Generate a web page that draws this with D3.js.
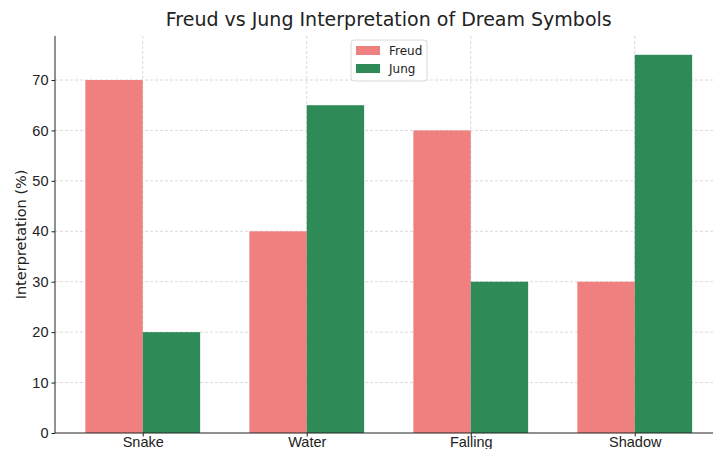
<!DOCTYPE html>
<html>
<head>
<meta charset="utf-8">
<script src="https://cdn.jsdelivr.net/npm/d3@7"></script>
<style>
  body { margin: 0; background: #fff; }
  svg { font-family: "DejaVu Sans", sans-serif; }
  .grid line { stroke: #d0d0d0; stroke-dasharray: 3,2; stroke-width: 0.8; }
</style>
</head>
<body>
<div id="chart"></div>
<script>
var symbols = ["Snake", "Water", "Falling", "Shadow"];
var freud = [70, 40, 60, 30];
var jung = [20, 65, 30, 75];
var yTicks = [0, 10, 20, 30, 40, 50, 60, 70];
var seriesNames = ["Freud", "Jung"];
var colors = ["#f08080", "#2e8b57"];

var W = 713, H = 449;

var svg = d3.select("#chart").append("svg")
    .attr("width", W)
    .attr("height", H);

// positions like matplotlib: index scale with margins
var x = d3.scaleLinear().domain([-0.535, 3.535]).range([55, 722.5]);
var y = d3.scaleLinear().domain([0, 78.75]).range([433, 433 - 78.75 * (353 / 70)]);
var barW = x(0.35) - x(0);

// grid
var grid = svg.append("g").attr("class", "grid");
grid.selectAll(".hg")
  .data(yTicks.slice(1))
  .enter().append("line")
    .attr("x1", x.range()[0]).attr("x2", x.range()[1])
    .attr("y1", function(d) { return y(d); })
    .attr("y2", function(d) { return y(d); });
grid.selectAll(".vg")
  .data(symbols)
  .enter().append("line")
    .attr("x1", function(d, i) { return x(i); })
    .attr("x2", function(d, i) { return x(i); })
    .attr("y1", y.range()[1]).attr("y2", y.range()[0]);

// bars
var data = symbols.map(function(s, i) { return {name: s, i: i, vals: [freud[i], jung[i]]}; });
var groups = svg.selectAll(".grp")
    .data(data)
  .enter().append("g");
groups.selectAll("rect")
    .data(function(d) { return d.vals.map(function(v, k) { return {i: d.i, k: k, v: v}; }); })
  .enter().append("rect")
    .attr("x", function(d) { return x(d.i) - barW + d.k * barW; })
    .attr("width", barW)
    .attr("y", function(d) { return y(d.v); })
    .attr("height", function(d) { return y(0) - y(d.v); })
    .attr("fill", function(d) { return colors[d.k]; });

// axes
var yAxis = svg.append("g")
    .attr("transform", "translate(" + x.range()[0] + ",0)")
    .call(d3.axisLeft(y).tickValues(yTicks).tickSize(3.5).tickPadding(3));
var xAxis = svg.append("g")
    .attr("transform", "translate(0," + y(0) + ")")
    .call(d3.axisBottom(x).tickValues([0, 1, 2, 3]).tickFormat(function(d) { return symbols[d]; }).tickSize(3.5).tickPadding(0));
[yAxis, xAxis].forEach(function(a) {
  a.select(".domain").attr("stroke", "#222").attr("stroke-width", 1);
  a.selectAll(".tick line").attr("stroke", "#222");
  a.selectAll(".tick text").attr("fill", "#222").style("font-size", "14.5px");
});
xAxis.select(".domain").attr("d", "M" + x.range()[0] + ",0H" + x.range()[1]);
yAxis.select(".domain").attr("d", "M0," + y.range()[0] + "V" + y.range()[1]);

// title and label
svg.append("text")
    .attr("x", (x.range()[0] + x.range()[1]) / 2)
    .attr("y", 26)
    .attr("text-anchor", "middle")
    .style("font-size", "19px")
    .attr("fill", "#222")
    .text("Freud vs Jung Interpretation of Dream Symbols");

svg.append("text")
    .attr("transform", "translate(26," + (y(0) + y.range()[1]) / 2 + ") rotate(-90)")
    .attr("text-anchor", "middle")
    .style("font-size", "14.5px")
    .attr("fill", "#222")
    .text("Interpretation (%)");

// legend
var lg = svg.append("g").attr("transform", "translate(351,40)");
lg.append("rect")
    .attr("width", 76).attr("height", 41).attr("rx", 3)
    .attr("fill", "#fff").attr("fill-opacity", 0.8)
    .attr("stroke", "#d8d8d8");
seriesNames.forEach(function(n, k) {
  lg.append("rect")
      .attr("x", 5).attr("y", 6 + k * 18)
      .attr("width", 24).attr("height", 9)
      .attr("fill", colors[k]);
  lg.append("text")
      .attr("x", 38).attr("y", 15 + k * 18)
      .style("font-size", "12px")
      .attr("fill", "#222")
      .text(n);
});
</script>
</body>
</html>
